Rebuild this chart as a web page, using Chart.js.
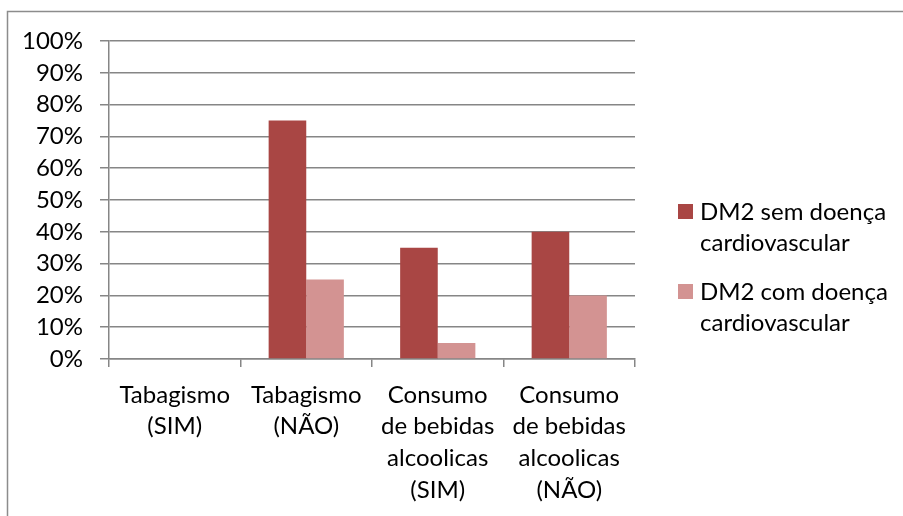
<!DOCTYPE html>
<html>
<head>
<meta charset="utf-8">
<script src="https://cdn.jsdelivr.net/npm/chart.js@4"></script>
<style>
  html, body { margin: 0; padding: 0; background: #fff; }
  #wrap { width: 903px; height: 516px; position: relative; }
</style>
</head>
<body>
<div id="wrap"><canvas id="chart" width="903" height="516"></canvas></div>
<script>
// Categorias e séries (percentuais)
const categories = [
  ['Tabagismo', '(SIM)'],
  ['Tabagismo', '(NÃO)'],
  ['Consumo', 'de bebidas', 'alcoolicas', '(SIM)'],
  ['Consumo', 'de bebidas', 'alcoolicas', '(NÃO)']
];
const semDoenca = [0, 75, 35, 40];
const comDoenca = [0, 25, 5, 20];
const seriesNames = [
  ['DM2 sem doença', 'cardiovascular'],
  ['DM2 com doença', 'cardiovascular']
];
const yTicks = [0, 10, 20, 30, 40, 50, 60, 70, 80, 90, 100];

const FONT = 'Lato, "Open Sans", sans-serif';
const GRID = '#868686';
const colors = ['#a94644', '#d39392'];

// moldura cinza do gráfico + legenda à direita
const framePlugin = {
  id: 'frame',
  beforeDraw(chart) {
    const ctx = chart.ctx;
    ctx.save();
    ctx.strokeStyle = '#8c8c8c';
    ctx.lineWidth = 1.5;
    ctx.strokeRect(7.5, 11.5, 1000, 600);
    ctx.restore();
  },
  afterDraw(chart) {
    const ctx = chart.ctx;
    ctx.save();
    ctx.font = '24px ' + FONT;
    ctx.textBaseline = 'middle';
    ctx.fillStyle = '#000';
    const tops = [204, 284];
    chart.data.datasets.forEach((ds, i) => {
      const y = tops[i];
      ctx.fillStyle = ds.backgroundColor;
      ctx.fillRect(678, y, 15, 15);
      ctx.fillStyle = '#000';
      seriesNames[i].forEach((line, j) => {
        ctx.fillText(line, 700, y + 8 + j * 31);
      });
    });
    ctx.restore();
  }
};

new Chart(document.getElementById('chart'), {
  type: 'bar',
  data: {
    labels: categories,
    datasets: [
      { label: seriesNames[0].join(' '), data: semDoenca, backgroundColor: colors[0], categoryPercentage: 0.572, barPercentage: 1 },
      { label: seriesNames[1].join(' '), data: comDoenca, backgroundColor: colors[1], categoryPercentage: 0.572, barPercentage: 1 }
    ]
  },
  options: {
    responsive: false,
    animation: false,
    layout: { padding: { top: 41, right: 268, bottom: 0, left: 0 } },
    plugins: {
      legend: { display: false },
      tooltip: { enabled: false }
    },
    scales: {
      x: {
        afterFit: s => { s.height = 157; },
        grid: { drawOnChartArea: false, drawTicks: true, tickLength: 8, color: GRID, lineWidth: 1.5, offset: true },
        border: { color: GRID, width: 1.5 },
        ticks: { color: '#000', font: { family: FONT, size: 24, lineHeight: 1.32 }, padding: 12, maxRotation: 0, autoSkip: false }
      },
      y: {
        min: 0,
        max: 100,
        afterFit: s => { s.width = 109; },
        afterBuildTicks: s => { s.ticks = yTicks.map(v => ({ value: v })); },
        grid: { color: GRID, lineWidth: 1.5, tickLength: 9 },
        border: { color: GRID, width: 1.5 },
        ticks: { color: '#000', font: { family: FONT, size: 24 }, padding: 17, callback: v => v + '%' }
      }
    }
  },
  plugins: [framePlugin]
});
</script>
</body>
</html>
